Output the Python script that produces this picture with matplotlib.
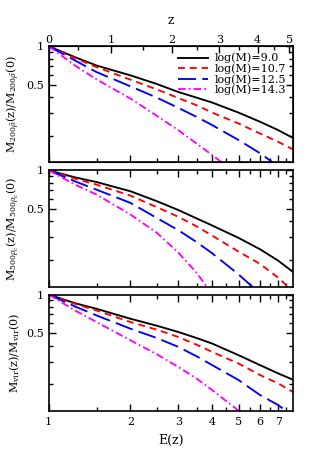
import numpy as np
import matplotlib
matplotlib.use('Agg')
import matplotlib.pyplot as plt
from matplotlib.ticker import NullFormatter

plt.rcParams['font.family'] = ['DejaVu Serif']
plt.rcParams['mathtext.fontset'] = 'dejavuserif'
plt.rcParams['lines.scale_dashes'] = False

# cosmology used for the top z axis
Om = 0.27
OL = 0.73

# E(z) sample points (same for every curve)
E_pts = [1.0, 1.25, 1.5, 2.0, 2.5, 3.0, 3.5, 4.0, 5.0, 6.0, 7.0, 7.9]

# top panel: M_200rhobar(z)/M(0)
m200b_90 = [1, .821, .707, .592, .507, .439, .397, .363, .303, .257, .221, .193]
m200b_107 = [1, .807, .687, .548, .460, .394, .346, .303, .249, .208, .179, .157]
m200b_125 = [1, .774, .628, .486, .397, .330, .281, .242, .185, .146, .115, .0988]
m200b_143 = [1, .707, .551, .390, .286, .221, .174, .141, .0988, .078, .065, .058]

# middle panel: M_500rhoc(z)/M(0)
m500c_90 = [1, .882, .811, .687, .575, .490, .422, .371, .297, .242, .197, .162]
m500c_107 = [1, .862, .774, .635, .516, .434, .366, .309, .232, .186, .145, .114]
m500c_125 = [1, .821, .707, .557, .425, .341, .276, .225, .154, .109, .075, .060]
m500c_143 = [1, .774, .647, .452, .326, .228, .159, .108, .0613, .040, .030, .025]

# bottom panel: M_vir(z)/M(0)
mvir_90 = [1, .856, .774, .647, .571, .510, .458, .414, .336, .281, .242, .217]
mvir_107 = [1, .846, .751, .610, .532, .466, .406, .356, .289, .235, .202, .174]
mvir_125 = [1, .807, .687, .541, .458, .390, .330, .281, .215, .164, .137, .113]
mvir_143 = [1, .751, .610, .439, .342, .272, .221, .179, .124, .0877, .065, .0545]

mass_labels = ['log(M)=9.0', 'log(M)=10.7', 'log(M)=12.5', 'log(M)=14.3']
ylabels = [r'M$_{200\bar{\rho}}$(z)/M$_{200\bar{\rho}}$(0)',
           r'M$_{500\rho_c}$(z)/M$_{500\rho_c}$(0)',
           r'M$_{\rm vir}$(z)/M$_{\rm vir}$(0)']

z_major = [0, 1, 2, 3, 4, 5]
z_minor = [0.5, 1.5, 2.5, 3.5, 4.5]
E_major = [1, 2, 3, 4, 5, 6, 7]
E_minor = [1.5, 2.5, 3.5, 4.5, 5.5, 6.5, 7.5]

colors = ['black', '#ff0000', '#0000ff', '#ff00ff']
dashes = [None, (5, 3.5), (13, 4.5), (5.5, 2.2, 1.2, 2.2)]


def E_of_z(z):
    z = np.asarray(z, dtype=float)
    return np.sqrt(Om * (1 + z) ** 3 + OL)


panels = [[m200b_90, m200b_107, m200b_125, m200b_143],
          [m500c_90, m500c_107, m500c_125, m500c_143],
          [mvir_90, mvir_107, mvir_125, mvir_143]]

fig, axes = plt.subplots(3, 1, figsize=(3.16, 4.53), dpi=100, sharex=True)
fig.subplots_adjust(left=0.154, right=0.926, top=0.898, bottom=0.0934, hspace=0.069)

for i, ax in enumerate(axes):
    for j, yy in enumerate(panels[i]):
        line, = ax.plot(E_pts, yy, color=colors[j], lw=1.35, label=mass_labels[j])
        if dashes[j] is not None:
            line.set_dashes(dashes[j])
    ax.set_xscale('log')
    ax.set_yscale('log')
    ax.set_xlim(1, 7.9)
    ax.set_ylim(0.124, 1.0)
    ax.set_yticks([0.5, 1], labels=['0.5', '1'])
    ax.set_yticks([0.2, 0.3, 0.4, 0.6, 0.7, 0.8, 0.9], minor=True)
    ax.yaxis.set_minor_formatter(NullFormatter())
    ax.set_xticks(E_major, labels=[str(v) for v in E_major])
    ax.set_xticks(E_minor, minor=True)
    ax.xaxis.set_minor_formatter(NullFormatter())
    ax.tick_params(which='both', direction='in', right=True, top=(i > 0), labelsize=8)
    ax.tick_params(which='major', length=5, width=1.0)
    ax.tick_params(which='minor', length=2.8, width=1.0)
    for s in ax.spines.values():
        s.set_linewidth(1.2)
    ax.set_ylabel(ylabels[i], fontsize=8, labelpad=3)

axes[2].tick_params(axis='x', pad=4.5)
axes[2].set_xlabel('E(z)', fontsize=9, labelpad=5)

# top z axis
top = axes[0].twiny()
top.set_xscale('log')
top.set_xlim(axes[0].get_xlim())
top.set_xticks(E_of_z(z_major), labels=[str(v) for v in z_major])
top.set_xticks(E_of_z(z_minor), minor=True)
top.xaxis.set_minor_formatter(NullFormatter())
top.tick_params(which='both', direction='in', labelsize=8, pad=1)
top.tick_params(which='major', length=5, width=1.0)
top.tick_params(which='minor', length=2.8, width=1.0)
top.set_xlabel('z', fontsize=9, labelpad=8)

axes[0].legend(loc='upper right', frameon=False, fontsize=8, handlelength=2.7,
               handletextpad=0.6, labelspacing=0.0, borderaxespad=0.2)

fig.savefig('out.png', dpi=100)
